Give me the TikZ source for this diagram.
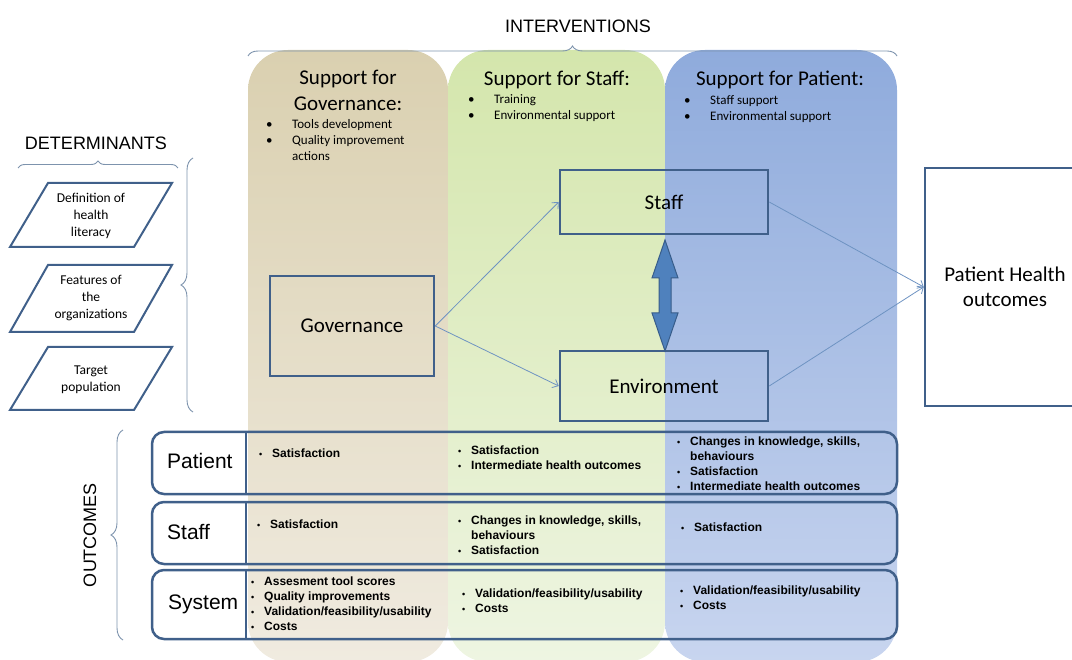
\documentclass[tikz,border=0pt]{standalone}
\usepackage{fontspec}
\setmainfont{Carlito}
\newfontfamily\arialfont{Liberation Sans}
\usepackage{tikz}
\usetikzlibrary{decorations.pathreplacing, arrows.meta}

\definecolor{tantop}{HTML}{DAD0B0}
\definecolor{tanbot}{HTML}{F0EBE0}
\definecolor{greentop}{HTML}{D4E6AC}
\definecolor{greenbot}{HTML}{EEF5E2}
\definecolor{bluetop}{HTML}{8FABDC}
\definecolor{bluebot}{HTML}{C8D5EF}
\definecolor{boxblue}{HTML}{40608A}
\definecolor{flowblue}{HTML}{6E93C2}
\definecolor{bracegray}{HTML}{7D93AD}
\definecolor{arrowfill}{HTML}{4F81BD}
\definecolor{arrowedge}{HTML}{385D8A}

\newcommand{\rowdot}{{\fontsize{9}{9}\selectfont\textbullet}}
\newcommand{\rowitems}[1]{\begin{tabular}[t]{@{}p{13pt}@{}l@{}}#1\end{tabular}}
\newcommand{\headitems}[1]{\begin{tabular}[t]{@{}p{26pt}@{}l@{}}#1\end{tabular}}

\begin{document}
\begin{tikzpicture}[x=1pt, y=-1pt,
    boxline/.style={draw=boxblue, line width=2.5pt, inner sep=0pt},
    flow/.style={draw=flowblue, line width=0.8pt, -{Straight Barb[length=5pt, width=9pt]}},
    bracket/.style={draw=bracegray, line width=0.9pt, decorate, decoration={brace, amplitude=#1}},
    title/.style={font=\fontsize{21}{26}\selectfont, align=center},
    headlist/.style={font=\fontsize{13}{16}\selectfont, anchor=base west, inner sep=0pt},
    rowlist/.style={font=\arialfont\bfseries\fontsize{12}{15}\selectfont, anchor=base west, inner sep=0pt},
    rowlabel/.style={font=\arialfont\fontsize{21}{25}\selectfont, anchor=west, inner sep=0pt},
    caption/.style={font=\arialfont\fontsize{18}{22}\selectfont},
    rowbox/.style={draw=boxblue, line width=2.5pt, rounded corners=12pt},
    parabox/.style={draw=boxblue, line width=2pt},
    paratext/.style={font=\fontsize{13.5}{17}\selectfont, align=center}]

    \useasboundingbox (0,0) rectangle (1072,660);

    \shade[top color=tantop, bottom color=tanbot, rounded corners=40pt] (248,50) rectangle (448,662);
    \shade[top color=greentop, bottom color=greenbot, rounded corners=40pt] (448,50) rectangle (665,662);
    \shade[top color=bluetop, bottom color=bluebot, rounded corners=40pt] (665,50) rectangle (897,662);

    \node[caption] at (578,26) (interv) {INTERVENTIONS};
    \draw[bracket=10pt] (248,56) -- (897,56);

    \node[title, anchor=base] at (348,111) (govtitle) {Support for\\Governance:};
    \node[title, anchor=base] at (557,86) (stafftitle) {Support for Staff:};
    \node[title, anchor=base] at (780,86) (pattitle) {Support for Patient:};

    \node[headlist] at (266,129) (govlist) {\headitems{\textbullet & Tools development\\ \textbullet & Quality improvement\\ & actions}};
    \node[headlist] at (468,104) (stafflist) {\headitems{\textbullet & Training\\ \textbullet & Environmental support}};
    \node[headlist] at (684,105) (patlist) {\headitems{\textbullet & Staff support\\ \textbullet & Environmental support}};

    \node[caption] at (96,143) (determ) {DETERMINANTS};
    \draw[bracket=7pt] (18,168) -- (178,168);
    \draw[bracket=12pt] (193,412) -- (193,158);

    \draw[parabox] (48,183) -- (172,183) -- (134,247) -- (10,247) -- cycle;
    \draw[parabox] (48,265) -- (172,265) -- (134,332) -- (10,332) -- cycle;
    \draw[parabox] (48,347) -- (172,347) -- (134,410) -- (10,410) -- cycle;
    \node[paratext] at (91,216) (literacy) {Definition of\\health\\literacy};
    \node[paratext] at (91,298) (features) {Features of\\the\\organizations};
    \node[paratext] at (91,380) (target) {Target\\population};

    \node[boxline, minimum width=164, minimum height=100, font=\fontsize{21}{25}\selectfont] at (352,326) (gov) {Governance};
    \node[boxline, minimum width=208, minimum height=64, font=\fontsize{21}{25}\selectfont] at (664,202) (staff) {Staff};
    \node[boxline, minimum width=208, minimum height=70, font=\fontsize{21}{25}\selectfont] at (664,386) (env) {Environment};
    \node[boxline, fill=white, minimum width=160, minimum height=238, align=center, font=\fontsize{21}{25}\selectfont] at (1005,287) (health) {Patient Health\\outcomes};

    \draw[flow] (gov.east) -- (staff.west);
    \draw[flow] (gov.east) -- (env.west);
    \draw[flow] (staff.east) -- (health.west);
    \draw[flow] (env.east) -- (health.west);

    \filldraw[fill=arrowfill, draw=arrowedge, line width=1pt] (665,240) -- (678,278) -- (671,278) -- (671,313) -- (678,313) -- (665,351) -- (652,313) -- (659,313) -- (659,278) -- (652,278) -- cycle;

    \draw[bracket=12pt] (123,640) -- (123,430);
    \node[caption, rotate=90] at (90,535) (outcomes) {OUTCOMES};

    \draw[rowbox] (152,432) rectangle (897,494);
    \draw[rowbox] (152,502) rectangle (897,564);
    \draw[rowbox] (152,570) rectangle (897,639);
    \draw[draw=boxblue, line width=1.2pt] (246,433) -- (246,493);
    \draw[draw=boxblue, line width=1.2pt] (246,503) -- (246,563);
    \draw[draw=boxblue, line width=1.2pt] (246,571) -- (246,638);

    \node[rowlabel] at (167,461) (patrow) {Patient};
    \node[rowlabel] at (167,532) (staffrow) {Staff};
    \node[rowlabel] at (168,604) (sysrow) {System};

    \node[rowlist] at (259,458) (pat1) {\rowitems{\rowdot & Satisfaction}};
    \node[rowlist] at (458,454) (pat2) {\rowitems{\rowdot & Satisfaction\\ \rowdot & Intermediate health outcomes}};
    \node[rowlist] at (677,446) (pat3) {\rowitems{\rowdot & Changes in knowledge, skills,\\ & behaviours\\ \rowdot & Satisfaction\\ \rowdot & Intermediate health outcomes}};

    \node[rowlist] at (257,528) (staff1) {\rowitems{\rowdot & Satisfaction}};
    \node[rowlist] at (458,524) (staff2) {\rowitems{\rowdot & Changes in knowledge, skills,\\ & behaviours\\ \rowdot & Satisfaction}};
    \node[rowlist] at (681,531) (staff3) {\rowitems{\rowdot & Satisfaction}};

    \node[rowlist] at (251,585) (sys1) {\rowitems{\rowdot & Assesment tool scores\\ \rowdot & Quality improvements\\ \rowdot & Validation/feasibility/usability\\ \rowdot & Costs}};
    \node[rowlist] at (462,597) (sys2) {\rowitems{\rowdot & Validation/feasibility/usability\\ \rowdot & Costs}};
    \node[rowlist] at (680,594) (sys3) {\rowitems{\rowdot & Validation/feasibility/usability\\ \rowdot & Costs}};
\end{tikzpicture}
\end{document}
